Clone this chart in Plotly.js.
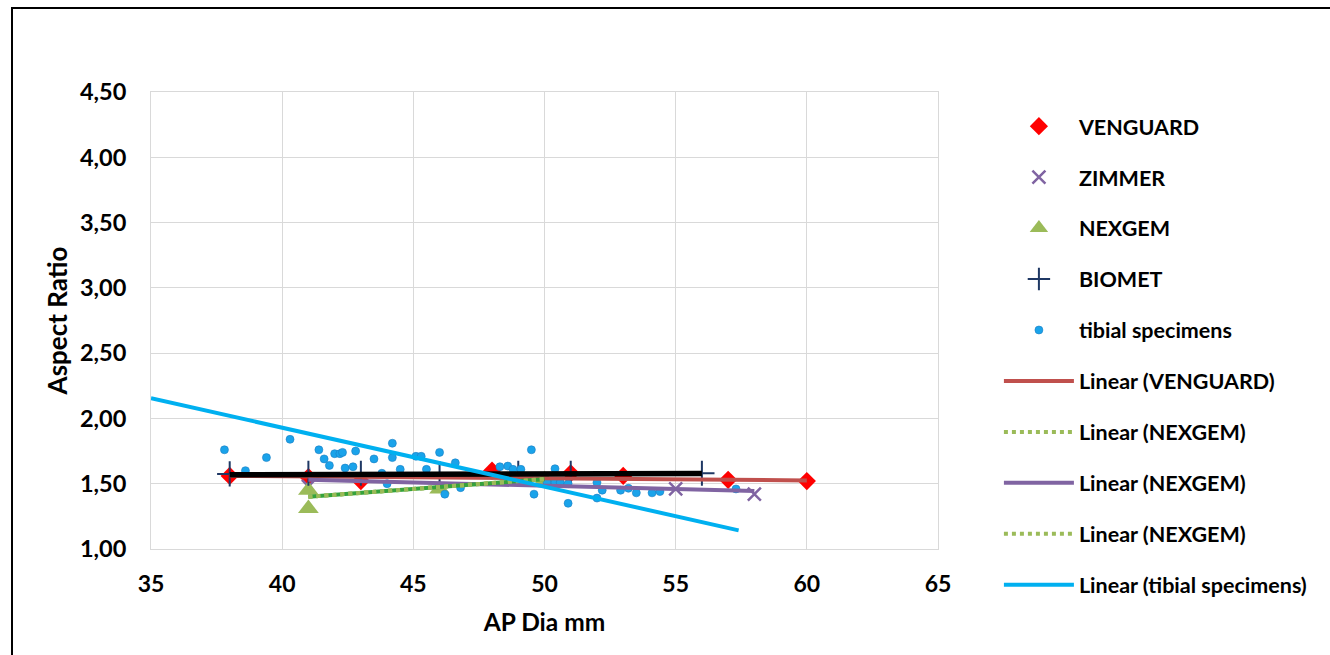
<!DOCTYPE html>
<html>
<head>
<meta charset="utf-8">
<script src="https://cdn.plot.ly/plotly-3.0.1.min.js"></script>
<style>html,body{margin:0;padding:0;background:#fff;}#chart{width:1330px;height:655px;}</style>
</head>
<body>
<div id="chart"></div>
<script>
// ---- data ----
var venguardX = [38, 41, 43, 48, 51, 53, 57, 60];
var venguardY = [1.56, 1.55, 1.52, 1.60, 1.58, 1.56, 1.53, 1.52];

var zimmerX = [41, 55, 58];
var zimmerY = [1.48, 1.46, 1.42];

var nexgemX = [41, 41, 46, 50];
var nexgemY = [1.45, 1.31, 1.46, 1.53];

var biometX = [38, 41, 43, 46, 49, 51, 56];
var biometY = [1.575, 1.58, 1.58, 1.575, 1.58, 1.58, 1.58];

var tibialX = [37.8, 38.6, 39.4, 40.3, 41.4, 41.6, 41.8, 42.0, 42.2, 42.3, 42.4, 42.7, 42.8,
               43.5, 43.8, 44.0, 44.2, 44.2, 44.5, 45.1, 45.3, 45.5, 46.0, 46.6, 46.2, 46.8,
               48.3, 48.6, 48.8, 49.1, 49.5, 49.6, 50.4, 50.1, 50.4, 50.6, 50.9, 50.9,
               52.0, 52.0, 52.2, 52.9, 53.2, 53.5, 54.1, 54.4, 57.3];
var tibialY = [1.76, 1.60, 1.70, 1.84, 1.76, 1.69, 1.64, 1.73, 1.73, 1.74, 1.62, 1.63, 1.75,
               1.69, 1.58, 1.50, 1.81, 1.70, 1.61, 1.71, 1.71, 1.61, 1.74, 1.66, 1.42, 1.47,
               1.63, 1.635, 1.61, 1.61, 1.76, 1.42, 1.615, 1.51, 1.51, 1.51, 1.50, 1.35,
               1.51, 1.39, 1.45, 1.45, 1.465, 1.43, 1.43, 1.44, 1.46];

// trend lines (end points as drawn in the reference)
var trendVenguardX = [38, 60];      var trendVenguardY = [1.56, 1.525];
var trendNexgemX = [41, 50];        var trendNexgemY = [1.40, 1.535];
var trendZimmerX = [41, 58];        var trendZimmerY = [1.53, 1.444];
var trendBiometX = [38, 56];        var trendBiometY = [1.568, 1.578];
var trendTibialX = [35, 57.4];      var trendTibialY = [2.155, 1.143];

var xTicks = [35, 40, 45, 50, 55, 60, 65];
var yTicks = [1.0, 1.5, 2.0, 2.5, 3.0, 3.5, 4.0, 4.5];

var FONT = 'Lato, "Open Sans", sans-serif';

var traces = [
  {x: venguardX, y: venguardY, mode: 'markers', type: 'scatter', name: 'VENGUARD', legendrank: 1, legendgroup: 'g1',
   marker: {symbol: 'diamond', size: 14, color: '#FF0000', line: {width: 0}}},
  {x: zimmerX, y: zimmerY, mode: 'markers', type: 'scatter', name: 'ZIMMER', legendrank: 2, legendgroup: 'g2',
   marker: {symbol: 'x-thin-open', size: 13, color: '#8064A2', line: {width: 2.5, color: '#8064A2'}}},
  {x: nexgemX, y: nexgemY, mode: 'markers', type: 'scatter', name: 'NEXGEM', legendrank: 3, legendgroup: 'g3',
   marker: {symbol: 'triangle-up', size: 18, color: '#9BBB59', line: {width: 0}}},
  {x: biometX, y: biometY, mode: 'markers', type: 'scatter', name: 'BIOMET', legendrank: 4, legendgroup: 'g4',
   marker: {symbol: 'cross-thin-open', size: 18, color: '#1F3864', line: {width: 2, color: '#1F3864'}}},
  {x: tibialX, y: tibialY, mode: 'markers', type: 'scatter', name: 'tibial specimens', legendrank: 5, legendgroup: 'g5',
   marker: {symbol: 'circle', size: 8, color: '#1AA3EA', line: {width: 0.6, color: '#1B7DC2'}}},
  {x: trendVenguardX, y: trendVenguardY, mode: 'lines', type: 'scatter', name: 'Linear (VENGUARD)', legendrank: 6, legendgroup: 'g6',
   line: {color: '#C0504D', width: 4}},
  {x: trendBiometX, y: trendBiometY, mode: 'lines', type: 'scatter', name: 'Linear (BIOMET)', showlegend: false, legendgroup: 'g11', legendrank: 11,
   line: {color: '#000000', width: 5.5}},
  {x: trendZimmerX, y: trendZimmerY, mode: 'lines', type: 'scatter', name: 'Linear (NEXGEM)', legendrank: 8, legendgroup: 'g8',
   line: {color: '#8064A2', width: 4}},
  {x: trendNexgemX, y: trendNexgemY, mode: 'lines', type: 'scatter', name: 'Linear (NEXGEM) base', showlegend: false, legendgroup: 'g12', legendrank: 12,
   line: {color: '#35A23C', width: 4}},
  {x: trendNexgemX, y: trendNexgemY, mode: 'lines', type: 'scatter', name: 'Linear (NEXGEM)', legendrank: 7, legendgroup: 'g7',
   line: {color: '#9BBB59', width: 4, dash: 'dot'}},
  {x: trendNexgemX, y: trendNexgemY, mode: 'lines', type: 'scatter', name: 'Linear (NEXGEM)', legendrank: 9, legendgroup: 'g9',
   line: {color: '#9BBB59', width: 4, dash: 'dot'}},
  {x: trendTibialX, y: trendTibialY, mode: 'lines', type: 'scatter', name: 'Linear (tibial specimens)', legendrank: 10, legendgroup: 'g10',
   line: {color: '#00B0F0', width: 4}}
];

var layout = {
  width: 1330, height: 655,
  margin: {l: 151, r: 392, t: 92, b: 106},
  paper_bgcolor: '#ffffff', plot_bgcolor: '#ffffff',
  font: {family: FONT, color: '#000000', weight: 'bold'},
  showlegend: true,
  hovermode: false,
  xaxis: {
    range: [35, 65], tickvals: xTicks, tickformat: 'd',
    showgrid: true, gridcolor: '#D9D9D9', gridwidth: 1,
    showline: true, linecolor: '#D9D9D9', linewidth: 1, mirror: true,
    zeroline: false, ticks: 'outside', ticklen: 14, tickcolor: 'rgba(0,0,0,0)',
    tickfont: {family: FONT, size: 23, weight: 'bold', color: '#000'},
    title: {text: 'AP Dia mm', font: {family: FONT, size: 24.5, weight: 'bold', color: '#000'}, standoff: 18}
  },
  yaxis: {
    range: [1, 4.5], tickvals: yTicks, tickformat: '.2f',
    showgrid: true, gridcolor: '#D9D9D9', gridwidth: 1,
    showline: true, linecolor: '#D9D9D9', linewidth: 1, mirror: true,
    zeroline: false, ticks: 'outside', ticklen: 19, tickcolor: 'rgba(0,0,0,0)',
    tickfont: {family: FONT, size: 23.5, weight: 'bold', color: '#000'},
    title: {text: 'Aspect Ratio', font: {family: FONT, size: 26, weight: 'bold', color: '#000'}, standoff: 4}
  },
  separators: ',.',
  legend: {
    x: 1.0774, xanchor: 'left', y: 0.97, yanchor: 'top',
    itemwidth: 70, itemsizing: 'trace', tracegroupgap: 20,
    traceorder: 'grouped', maxheight: 620,
    font: {family: FONT, size: 21.5, weight: 'bold', color: '#000'},
    bgcolor: 'rgba(0,0,0,0)'
  },
  shapes: [{
    type: 'rect', xref: 'paper', yref: 'paper', layer: 'above',
    x0: (12 - 151) / 787, x1: (1340 - 151) / 787,
    y0: (549 - 665) / 457, y1: (549 - 8) / 457,
    line: {color: '#000000', width: 2}, fillcolor: 'rgba(0,0,0,0)'
  }]
};

Plotly.newPlot('chart', traces, layout, {displayModeBar: false, staticPlot: true});
</script>
</body>
</html>
